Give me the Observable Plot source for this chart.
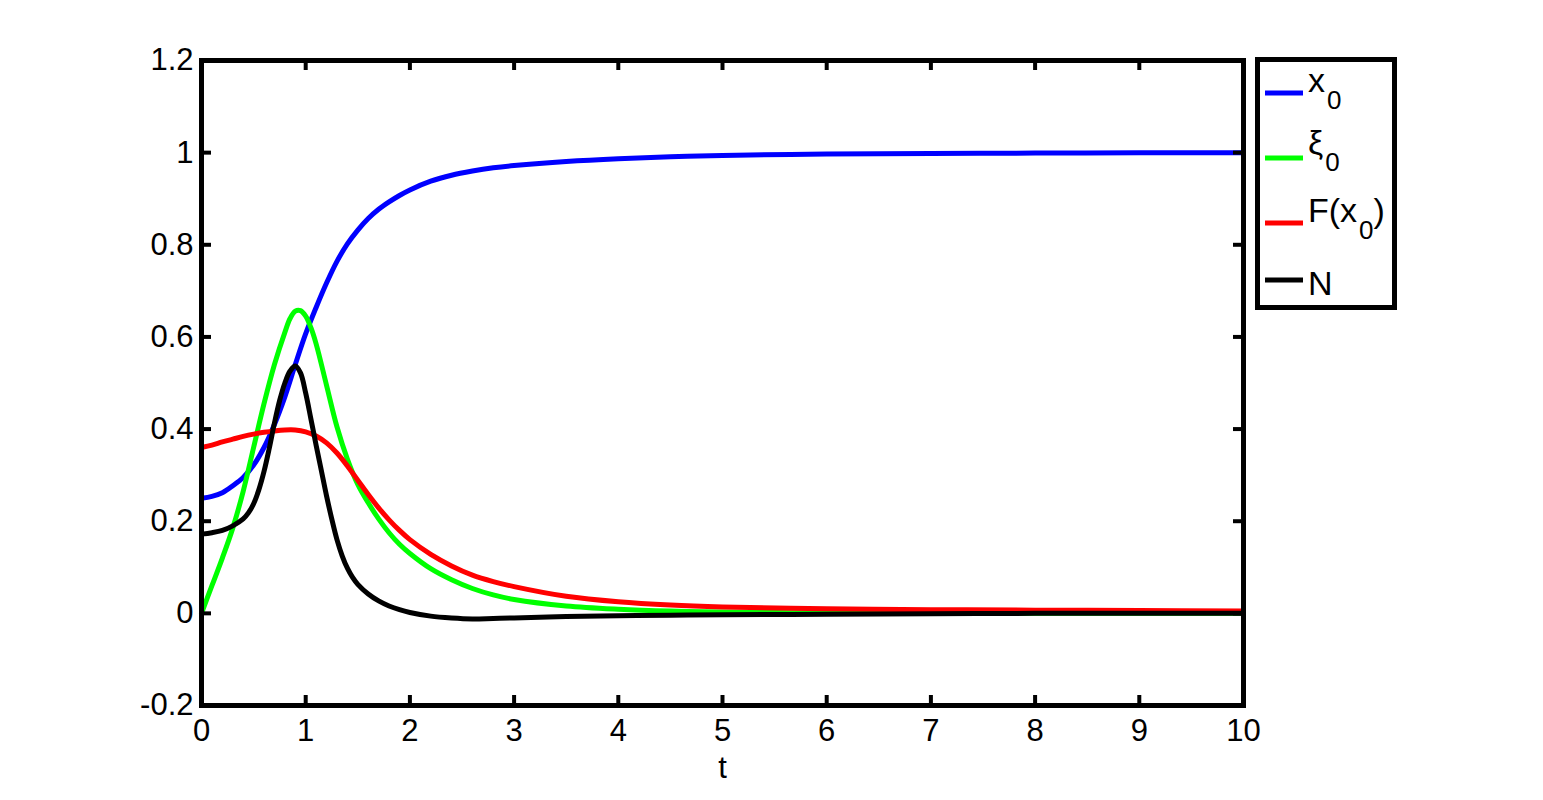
<!DOCTYPE html>
<html>
<head>
<meta charset="utf-8">
<script src="https://cdn.jsdelivr.net/npm/d3@7"></script>
<script src="https://cdn.jsdelivr.net/npm/@observablehq/plot@0.6"></script>
<style>
  html, body { margin: 0; padding: 0; background: #fff; }
  #wrap { position: relative; width: 1543px; height: 800px; }
  #legend { position: absolute; left: 1255px; top: 57px; }
</style>
</head>
<body>
<div id="wrap"></div>
<script>
// ---- data ----
const xTicks = [0, 1, 2, 3, 4, 5, 6, 7, 8, 9, 10];
const yTicks = [-0.2, 0, 0.2, 0.4, 0.6, 0.8, 1, 1.2];
const seriesNames = ["x0", "ξ0", "F(x0)", "N"];
const seriesColors = ["#0000ff", "#00ff00", "#ff0000", "#000000"];

const x0T = [0, 0.1, 0.2, 0.3, 0.4, 0.5, 0.6, 0.7, 0.8, 0.9, 1.0, 1.1, 1.2, 1.3, 1.4, 1.5, 1.6, 1.7, 1.8, 1.9, 2.0, 2.2, 2.4, 2.6, 2.8, 3.0, 3.5, 4.0, 4.5, 5.0, 6, 7, 8, 9, 10];
const x0V = [0.25, 0.254, 0.262, 0.277, 0.295, 0.322, 0.36, 0.41, 0.47, 0.54, 0.607, 0.664, 0.717, 0.764, 0.802, 0.832, 0.857, 0.877, 0.893, 0.907, 0.919, 0.938, 0.951, 0.96, 0.967, 0.972, 0.981, 0.987, 0.991, 0.994, 0.997, 0.998, 0.999, 0.9995, 1.0];

const xiT = [0, 0.1, 0.2, 0.3, 0.4, 0.5, 0.6, 0.7, 0.8, 0.85, 0.9, 0.95, 1.0, 1.05, 1.1, 1.2, 1.3, 1.4, 1.5, 1.6, 1.7, 1.8, 1.9, 2.0, 2.2, 2.4, 2.6, 2.8, 3.0, 3.5, 4.0, 4.5, 5.0, 6, 7, 8, 9, 10];
const xiV = [0, 0.06, 0.12, 0.185, 0.265, 0.36, 0.455, 0.54, 0.61, 0.64, 0.656, 0.657, 0.645, 0.62, 0.585, 0.495, 0.405, 0.335, 0.28, 0.24, 0.205, 0.175, 0.15, 0.13, 0.097, 0.073, 0.054, 0.04, 0.03, 0.016, 0.009, 0.005, 0.003, 0.001, 0, 0, 0, 0];

const fT = [0, 0.1, 0.2, 0.3, 0.4, 0.5, 0.6, 0.7, 0.8, 0.9, 1.0, 1.1, 1.2, 1.3, 1.4, 1.5, 1.6, 1.7, 1.8, 1.9, 2.0, 2.2, 2.4, 2.6, 2.8, 3.0, 3.5, 4.0, 4.5, 5.0, 6, 7, 8, 9, 10];
const fV = [0.36, 0.365, 0.372, 0.378, 0.384, 0.389, 0.393, 0.396, 0.398, 0.398, 0.394, 0.385, 0.37, 0.348, 0.32, 0.289, 0.258, 0.229, 0.203, 0.18, 0.16, 0.128, 0.103, 0.083, 0.069, 0.058, 0.037, 0.025, 0.018, 0.014, 0.010, 0.008, 0.007, 0.006, 0.005];

const nT = [0, 0.1, 0.2, 0.3, 0.4, 0.45, 0.5, 0.55, 0.6, 0.65, 0.7, 0.75, 0.8, 0.85, 0.9, 0.95, 1.0, 1.05, 1.1, 1.15, 1.2, 1.25, 1.3, 1.35, 1.4, 1.45, 1.5, 1.6, 1.7, 1.8, 1.9, 2.0, 2.2, 2.4, 2.6, 2.8, 3.0, 3.5, 4.0, 4.5, 5.0, 6, 7, 8, 9, 10];
const nV = [0.172, 0.175, 0.18, 0.19, 0.205, 0.218, 0.238, 0.268, 0.308, 0.358, 0.413, 0.462, 0.5, 0.526, 0.537, 0.522, 0.478, 0.422, 0.365, 0.31, 0.255, 0.205, 0.16, 0.125, 0.098, 0.078, 0.063, 0.042, 0.027, 0.016, 0.008, 0.002, -0.006, -0.01, -0.012, -0.011, -0.01, -0.007, -0.005, -0.004, -0.003, -0.002, -0.001, 0, 0, 0];

// ---- build table ----
const seriesT = [x0T, xiT, fT, nT];
const seriesV = [x0V, xiV, fV, nV];
const rows = [];
seriesNames.forEach((name, i) => {
  seriesT[i].forEach((t, j) => rows.push({series: name, t, v: seriesV[i][j]}));
});

const W = 1543, H = 800;
const mL = 201, mR = 300, mT = 60, mB = 95;
const innerW = W - mL - mR, innerH = H - mT - mB;
const tickLen = 10;
const fmt = d => String(+d.toFixed(1));
const font = "'Liberation Sans', Arial, Helvetica, sans-serif";

const chart = Plot.plot({
  width: W,
  height: H,
  marginLeft: mL,
  marginRight: mR,
  marginTop: mT,
  marginBottom: mB,
  style: {fontFamily: font, fontSize: "31px", background: "#fff", color: "#000"},
  x: {domain: [0, 10]},
  y: {domain: [-0.2, 1.2]},
  color: {domain: seriesNames, range: seriesColors},
  marks: [
    ...seriesNames.map((name, i) =>
      Plot.line(rows.filter(r => r.series === name), {
        x: "t", y: "v", stroke: seriesColors[i], strokeWidth: 5, curve: "catmull-rom"
      })
    ),
    Plot.frame({stroke: "#000", strokeWidth: 5}),
    // inward ticks on all four sides
    Plot.ruleX(xTicks, {x: d => d, stroke: "#000", strokeWidth: 4, insetTop: innerH - tickLen}),
    Plot.ruleX(xTicks, {x: d => d, stroke: "#000", strokeWidth: 4, insetBottom: innerH - tickLen}),
    Plot.ruleY(yTicks, {y: d => d, stroke: "#000", strokeWidth: 4, insetRight: innerW - tickLen}),
    Plot.ruleY(yTicks, {y: d => d, stroke: "#000", strokeWidth: 4, insetLeft: innerW - tickLen}),
    Plot.axisX(xTicks, {tickSize: 0, tickPadding: 13, tickFormat: fmt, fontSize: 31, label: null}),
    Plot.axisY(yTicks, {tickSize: 0, tickPadding: 8, tickFormat: fmt, fontSize: 31, label: null}),
    Plot.text(["t"], {frameAnchor: "bottom", text: d => d, dy: 72, fontSize: 31, fill: "#000"})
  ]
});

const wrap = document.getElementById("wrap");
wrap.appendChild(chart);

// ---- legend (SVG overlay to the right of the axes) ----
const ns = "http://www.w3.org/2000/svg";
const lg = document.createElementNS(ns, "svg");
lg.setAttribute("id", "legend");
lg.setAttribute("width", 143);
lg.setAttribute("height", 254);
lg.style.fontFamily = font;
const rect = document.createElementNS(ns, "rect");
rect.setAttribute("x", 2.5); rect.setAttribute("y", 2.5);
rect.setAttribute("width", 137); rect.setAttribute("height", 248);
rect.setAttribute("fill", "#fff"); rect.setAttribute("stroke", "#000"); rect.setAttribute("stroke-width", 5);
lg.appendChild(rect);

const lineYs = [36, 101, 166, 223];
const entries = [
  {main: "x", sub: "0", after: "", base: 35},
  {main: "ξ", sub: "0", after: "", base: 97},
  {main: "F(x", sub: "0", after: ")", base: 165},
  {main: "N", sub: "", after: "", base: 238}
];
entries.forEach((e, i) => {
  const ln = document.createElementNS(ns, "line");
  ln.setAttribute("x1", 10); ln.setAttribute("x2", 48);
  ln.setAttribute("y1", lineYs[i]); ln.setAttribute("y2", lineYs[i]);
  ln.setAttribute("stroke", seriesColors[i]); ln.setAttribute("stroke-width", 5);
  lg.appendChild(ln);
  const tx = document.createElementNS(ns, "text");
  tx.setAttribute("x", 53); tx.setAttribute("y", e.base);
  tx.setAttribute("font-size", 34);
  tx.setAttribute("fill", "#000");
  const t1 = document.createElementNS(ns, "tspan");
  t1.textContent = e.main;
  tx.appendChild(t1);
  if (e.sub) {
    const t2 = document.createElementNS(ns, "tspan");
    t2.setAttribute("dy", 17); t2.setAttribute("dx", 2);
    t2.setAttribute("font-size", 26);
    t2.textContent = e.sub;
    tx.appendChild(t2);
  }
  if (e.after) {
    const t3 = document.createElementNS(ns, "tspan");
    t3.setAttribute("dy", -17);
    t3.setAttribute("font-size", 34);
    t3.textContent = e.after;
    tx.appendChild(t3);
  }
  lg.appendChild(tx);
});
wrap.appendChild(lg);
</script>
</body>
</html>
